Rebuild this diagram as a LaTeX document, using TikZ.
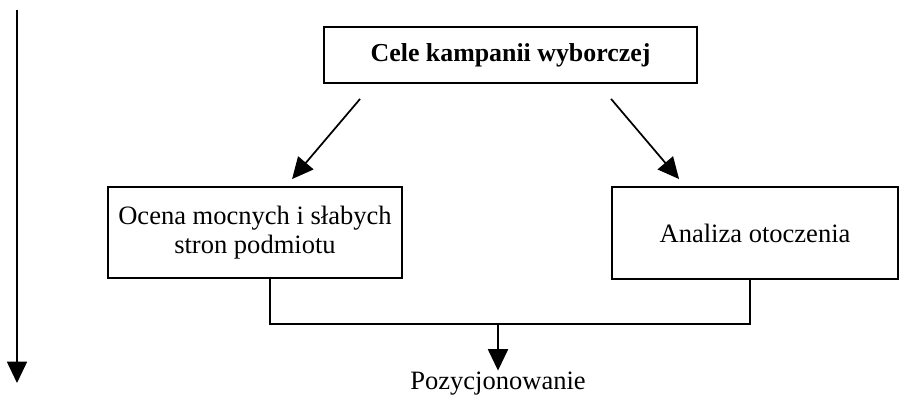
\documentclass[tikz,border=0pt]{standalone}
\usepackage{fontspec}
\setmainfont{Liberation Serif}
\usetikzlibrary{arrows.meta,calc}

\begin{document}
\begin{tikzpicture}[x=0.75pt,y=-0.75pt,
    line width=1.3pt,
    box/.style={draw,line width=1.4pt,inner sep=0pt,align=center,
      font=\fontsize{19.9}{22}\selectfont},
    arr/.style={-{Triangle[width=15pt,length=16pt]}},
    label/.style={inner sep=0pt,font=\fontsize{19.9}{22}\selectfont}]
  \useasboundingbox (0,0) rectangle (903,396);

  % time axis on the left
  \coordinate (t0) at (17,10);
  \coordinate (t1) at (17,383);
  \draw[arr] (t0) -- (t1);

  % boxes
  \node[box,minimum width=373*0.75pt,minimum height=56*0.75pt,
        font=\fontsize{19.4}{22}\selectfont\bfseries]
        (top) at (510.5,55) {Cele kampanii wyborczej};
  \node[box,minimum width=294*0.75pt,minimum height=91*0.75pt]
        (left) at (255,232.5) {Ocena mocnych i słabych\\stron podmiotu};
  \node[box,minimum width=286*0.75pt,minimum height=92*0.75pt]
        (right) at (755,233) {Analiza otoczenia};

  % result label
  \node[label,anchor=base] (pos) at (498,389) {Pozycjonowanie};

  % arrows from the goals
  \draw[arr] ($(top.south west)+(37,15)$) -- ($(left.north west)+(185,-7)$);
  \draw[arr] ($(top.south west)+(288,15)$) -- ($(right.north west)+(68,-7)$);

  % joining the two analyses
  \coordinate (j) at (498,324);
  \draw ($(left.south)+(15,0)$) |- (j) -| ($(right.south)+(-5,0)$);
  \draw[arr] (j) -- (pos.north);
\end{tikzpicture}
\end{document}
